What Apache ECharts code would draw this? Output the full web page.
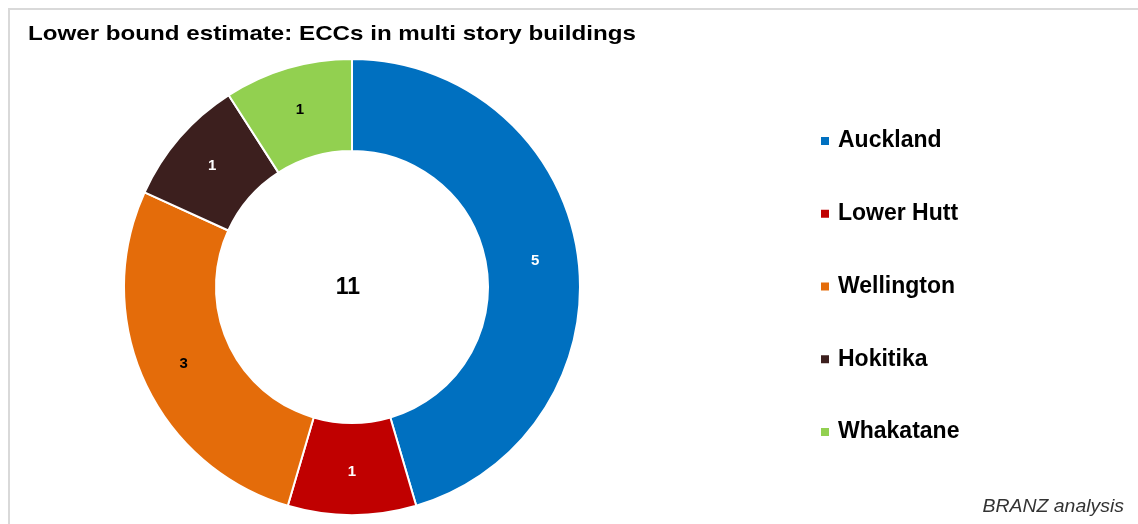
<!DOCTYPE html>
<html>
<head>
<meta charset="utf-8">
<script src="https://cdn.jsdelivr.net/npm/echarts@6/dist/echarts.min.js"></script>
<style>
  html, body { margin: 0; padding: 0; background: #fff; }
  #chart { width: 1138px; height: 524px; }
</style>
</head>
<body>
<div id="chart"></div>
<script>
// ECCs per location (lower bound estimate)
const cities = ['Auckland', 'Lower Hutt', 'Wellington', 'Hokitika', 'Whakatane'];
const counts = [5, 1, 3, 1, 1];
const colors = ['#0070C0', '#C00000', '#E46C0A', '#3C1F1E', '#92D050'];
const labelColors = ['#ffffff', '#ffffff', '#000000', '#ffffff', '#000000'];

const titleText = 'Lower bound estimate: ECCs in multi story buildings';
const sourceText = 'BRANZ analysis';

const total = counts.reduce((a, b) => a + b, 0);
const font = 'Arial, "Liberation Sans", sans-serif';

const chart = echarts.init(document.getElementById('chart'));
chart.setOption({
  animation: false,
  backgroundColor: '#ffffff',
  color: colors,
  legend: {
    orient: 'vertical',
    left: 819,
    top: 129,
    padding: 0,
    itemWidth: 10,
    itemHeight: 10,
    itemGap: 48.75,
    icon: 'rect',
    textStyle: { fontFamily: font, fontSize: 23, fontWeight: 'bold', color: '#000', lineHeight: 24, padding: [0, 0, 0, 3] },
    data: cities
  },
  graphic: [
    {
      type: 'rect',
      shape: { x: 9, y: 9, width: 1200, height: 600 },
      style: { fill: 'none', stroke: '#d9d9d9', lineWidth: 2 },
      silent: true
    },
    {
      // chart title, set slightly wide
      type: 'text',
      x: 28, y: 34, scaleX: 1.15,
      style: {
        text: titleText, fontFamily: font, fontSize: 21, fontWeight: 'bold',
        fill: '#000', textVerticalAlign: 'middle'
      }
    },
    {
      // source note, bottom right
      type: 'text',
      x: 1124, y: 507, scaleX: 1.08,
      style: {
        text: sourceText, fontFamily: font, fontSize: 18, fontStyle: 'italic',
        fill: '#333', align: 'right', textVerticalAlign: 'middle'
      }
    },
    {
      // total in the donut hole
      type: 'text',
      x: 348, y: 288,
      style: {
        text: String(total), fontFamily: font, fontSize: 23, fontWeight: 'bold',
        fill: '#000', align: 'center', textVerticalAlign: 'middle'
      }
    }
  ],
  series: [{
    type: 'pie',
    center: [352, 287],
    radius: [136, 228],
    startAngle: 90,
    clockwise: true,
    avoidLabelOverlap: false,
    itemStyle: { borderColor: '#ffffff', borderWidth: 2 },
    label: {
      show: true,
      position: 'inside',
      formatter: '{c}',
      fontFamily: font,
      fontSize: 15,
      fontWeight: 'bold'
    },
    labelLine: { show: false },
    emphasis: { disabled: true },
    data: cities.map((name, i) => ({
      name,
      value: counts[i],
      label: { color: labelColors[i] }
    }))
  }]
});
</script>
</body>
</html>
